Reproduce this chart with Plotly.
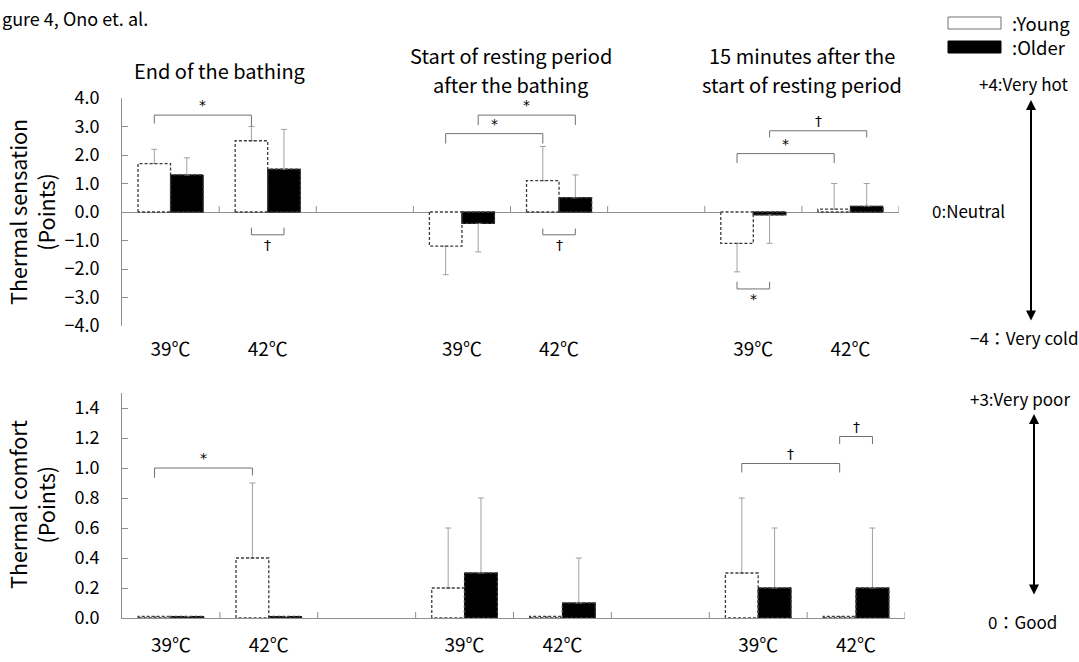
import plotly.graph_objects as go

W, H = 1079, 662
FONT = "Noto Sans CJK JP"
MARK_FONT = "DejaVu Sans"

# ---------------- data ----------------
temps = ["39℃", "42℃", "39℃", "42℃", "39℃", "42℃"]
slots = [0, 1, 3, 4, 6, 7]          # category slots (empty slot between periods)
periods = [["End of the bathing"],
           ["Start of resting period", "after the bathing"],
           ["15 minutes after the", "start of resting period"]]
period_centers = [0.5, 3.5, 6.5]
groups = [":Young", ":Older"]

sens_young = [1.7, 2.5, -1.2, 1.1, -1.1, 0.1]
sens_young_sd = [0.5, 0.5, 1.0, 1.2, 1.0, 0.9]
sens_older = [1.3, 1.5, -0.4, 0.5, -0.1, 0.2]
sens_older_sd = [0.6, 1.4, 1.0, 0.8, 1.0, 0.8]

comf_young = [0.01, 0.4, 0.2, 0.01, 0.3, 0.01]
comf_young_sd = [None, 0.5, 0.4, None, 0.5, None]
comf_older = [0.01, 0.01, 0.3, 0.1, 0.2, 0.2]
comf_older_sd = [None, None, 0.5, 0.3, 0.4, 0.4]

# significance brackets: (slot a, group a, slot b, group b, line level, leg a end, leg b end, mark)
sens_brackets = [
    (0, "Y", 1, "Y", 3.4, 3.1, 3.0, "*"),
    (1, "Y", 1, "O", -0.8, -0.55, -0.55, "†"),
    (3, "Y", 4, "Y", 2.75, 2.4, 2.4, "*"),
    (3, "O", 4, "O", 3.4, 3.05, 3.05, "*"),
    (4, "Y", 4, "O", -0.8, -0.58, -0.58, "†"),
    (6, "Y", 7, "Y", 2.05, 1.72, 1.72, "*"),
    (6, "O", 7, "O", 2.85, 2.62, 2.62, "†"),
    (6, "Y", 6, "O", -2.7, -2.45, -2.45, "*"),
]
comf_brackets = [
    (0, "Y", 1, "Y", 1.0, 0.935, 0.95, "*"),
    (6, "Y", 7, "Y", 1.03, 0.97, 0.97, "†"),
    (7, "Y", 7, "O", 1.21, 1.16, 1.16, "†"),
]

# ---------------- styling ----------------
BARGAP = 0.33
HALF = (1 - BARGAP) / 4.0
AXIS_COL = "#8f8f8f"
ERR_COL = "#a0a0a0"
BR_COL = "#707070"
OUTLINE = "#3c3c3c"
FILLS = {"Y": "white", "O": "black"}


def err_arrays(vals, sds):
    plus, minus = [], []
    for v, s in zip(vals, sds):
        if s is None:
            plus.append(None); minus.append(None)
        elif v >= 0:
            plus.append(s); minus.append(None)
        else:
            plus.append(None); minus.append(s)
    return plus, minus


fig = go.Figure()

def add_bars(vals, sds, name, g, xa, ya):
    p, m = err_arrays(vals, sds)
    fig.add_trace(go.Bar(
        x=slots, y=vals, name=name, xaxis=xa, yaxis=ya,
        marker=dict(color=FILLS[g],
                    line=dict(color="rgba(0,0,0,0)" if g == "Y" else "black", width=1)),
        error_y=dict(type="data", symmetric=False, array=p, arrayminus=m,
                     color=ERR_COL, thickness=1, width=3),
        showlegend=False, hoverinfo="skip"))

def add_dashed_outline(vals, g, xa, ya):
    # dashed outline around each bar (edges derived from slot and bar width)
    xs, ys = [], []
    for s, v in zip(slots, vals):
        c = s + (-HALF if g == "Y" else HALF)
        x0, x1 = c - HALF, c + HALF
        xs += [x0, x0, x1, x1, x0, None]
        ys += [0, v, v, 0, 0, None]
    fig.add_trace(go.Scatter(x=xs, y=ys, mode="lines", xaxis=xa, yaxis=ya,
                             line=dict(color=OUTLINE, width=1.3, dash="3px,2px"),
                             showlegend=False, hoverinfo="skip"))

add_bars(sens_young, sens_young_sd, groups[0], "Y", "x", "y")
add_bars(sens_older, sens_older_sd, groups[1], "O", "x", "y")
add_bars(comf_young, comf_young_sd, groups[0], "Y", "x2", "y2")
add_bars(comf_older, comf_older_sd, groups[1], "O", "x2", "y2")
add_dashed_outline(sens_young, "Y", "x", "y")
add_dashed_outline(sens_older, "O", "x", "y")
add_dashed_outline(comf_young, "Y", "x2", "y2")
add_dashed_outline(comf_older, "O", "x2", "y2")

annotations = []

def add_brackets(brs, xa, ya):
    xs, ys = [], []
    for a, ga, b, gb, yl, la, lb, mark in brs:
        xa_ = a + (-HALF if ga == "Y" else HALF)
        xb_ = b + (-HALF if gb == "Y" else HALF)
        xs += [xa_, xa_, xb_, xb_, None]
        ys += [la, yl, yl, lb, None]
        above = la < yl
        annotations.append(dict(
            x=(xa_ + xb_) / 2, y=yl, xref=xa, yref=ya, text=mark, showarrow=False,
            xanchor="center", yanchor="bottom" if above else "top",
            yshift=0, font=dict(family=MARK_FONT, size=14, color="black")))
    fig.add_trace(go.Scatter(x=xs, y=ys, mode="lines", xaxis=xa, yaxis=ya,
                             line=dict(color=BR_COL, width=1), showlegend=False,
                             hoverinfo="skip"))

add_brackets(sens_brackets, "x", "y")
add_brackets(comf_brackets, "x2", "y2")

# category boundary ticks on the zero line
shapes = []
for k in range(8):
    b = k + 0.5
    shapes.append(dict(type="line", xref="x", yref="y", x0=b, x1=b, y0=0, y1=0.21,
                       line=dict(color=AXIS_COL, width=1)))
    shapes.append(dict(type="line", xref="x2", yref="y2", x0=b, x1=b, y0=0, y1=0.04,
                       line=dict(color=AXIS_COL, width=1)))

# legend (wide swatches as in the original)
for i, (g, name) in enumerate(zip(["Y", "O"], groups)):
    top = 17 + i * 24
    shapes.append(dict(type="rect", xref="paper", yref="paper",
                       x0=948 / W, x1=1001 / W, y0=1 - (top + 12) / H, y1=1 - top / H,
                       fillcolor=FILLS[g], line=dict(color="#707070" if g == "Y" else "black",
                                                     width=1)))
    annotations.append(dict(x=1010 / W, y=1 - (top + 6) / H, xref="paper", yref="paper",
                            xanchor="left", yanchor="middle", text=name, showarrow=False,
                            font=dict(family=FONT, size=18.5, color="black")))

# period titles (one annotation per line, 29 px line pitch)
for c, lines in zip(period_centers, periods):
    if len(lines) == 1:
        ys_px = [71]
    else:
        ys_px = [55, 84]
    for t, ypx in zip(lines, ys_px):
        annotations.append(dict(x=c, xref="x", y=1 - ypx / H, yref="paper", text=t,
                                showarrow=False, xanchor="center", yanchor="middle",
                                font=dict(family=FONT, size=20, color="black")))

# y-axis titles
annotations.append(dict(x=31 / W, y=1 - 212 / H, xref="paper", yref="paper",
                        xanchor="center", yanchor="middle",
                        text="Thermal sensation<br>(Points)", textangle=-90, showarrow=False,
                        font=dict(family=FONT, size=21.5, color="black")))
annotations.append(dict(x=31 / W, y=1 - 505 / H, xref="paper", yref="paper",
                        xanchor="center", yanchor="middle",
                        text="Thermal comfort<br>(Points)", textangle=-90, showarrow=False,
                        font=dict(family=FONT, size=21.5, color="black")))

# figure label (partially cut at the left edge in the original)
annotations.append(dict(x=0, y=1 - 18 / H, xref="paper", yref="paper",
                        xanchor="left", yanchor="middle",
                        text="gure 4, Ono et. al.", showarrow=False,
                        font=dict(family=FONT, size=18, color="black")))

# scale explanations on the right
right_labels = [
    ("+4:Very hot", 1024, 83),
    ("0:Neutral", 968, 211),
    ("−4：Very cold", 1024, 337),
    ("+3:Very poor", 1020, 398),
    ("0：Good", 1022, 621),
]
for t, px, py in right_labels:
    annotations.append(dict(x=px / W, y=1 - py / H, xref="paper", yref="paper", text=t,
                            xanchor="center", yanchor="middle", showarrow=False,
                            font=dict(family=FONT, size=17, color="black")))

for x_px, top, bot in [(1031, 100, 322), (1034, 414, 596)]:
    annotations.append(dict(x=x_px / W, y=1 - top / H, xref="paper", yref="paper", text="",
                            showarrow=True, arrowhead=2, arrowside="end+start",
                            arrowsize=1, arrowwidth=2, arrowcolor="black",
                            ax=0, ay=bot - top, axref="pixel", ayref="pixel"))

common_x = dict(range=[-0.5, 7.5], tickvals=slots, ticktext=temps, ticks="",
                showgrid=False, zeroline=False, automargin=False,
                tickfont=dict(family=FONT, size=19, color="black"))
common_y = dict(showgrid=False, showline=True, linecolor=AXIS_COL, linewidth=1,
                ticks="inside", ticklen=6, tickcolor=AXIS_COL, tickformat=".1f",
                automargin=False,
                tickfont=dict(family=FONT, size=18, color="black"), ticklabelstandoff=18)

fig.update_layout(
    width=W, height=H, margin=dict(l=0, r=0, t=0, b=0, autoexpand=False),
    paper_bgcolor="white", plot_bgcolor="white",
    barmode="group", bargap=BARGAP, bargroupgap=0,
    xaxis=dict(domain=[122 / W, 899 / W], anchor="y", showline=False,
               ticklabelstandoff=10, **common_x),
    yaxis=dict(domain=[1 - 326 / H, 1 - 98 / H], range=[-4, 4], tickvals=list(range(-4, 5)),
               zeroline=True, zerolinecolor=AXIS_COL, zerolinewidth=1, **common_y),
    xaxis2=dict(domain=[122 / W, 905 / W], anchor="y2", showline=True, linecolor=AXIS_COL,
                ticklabelstandoff=10, **common_x),
    yaxis2=dict(domain=[1 - 618 / H, 1 - 393 / H], range=[0, 1.5], anchor="x2",
                tickvals=[0, 0.2, 0.4, 0.6, 0.8, 1.0, 1.2, 1.4], zeroline=False, **common_y),
    shapes=shapes, annotations=annotations, showlegend=False,
)

fig.write_html("out.html", config={"displayModeBar": False},
               post_script="document.body.style.margin='0';document.body.style.overflow='hidden';")
